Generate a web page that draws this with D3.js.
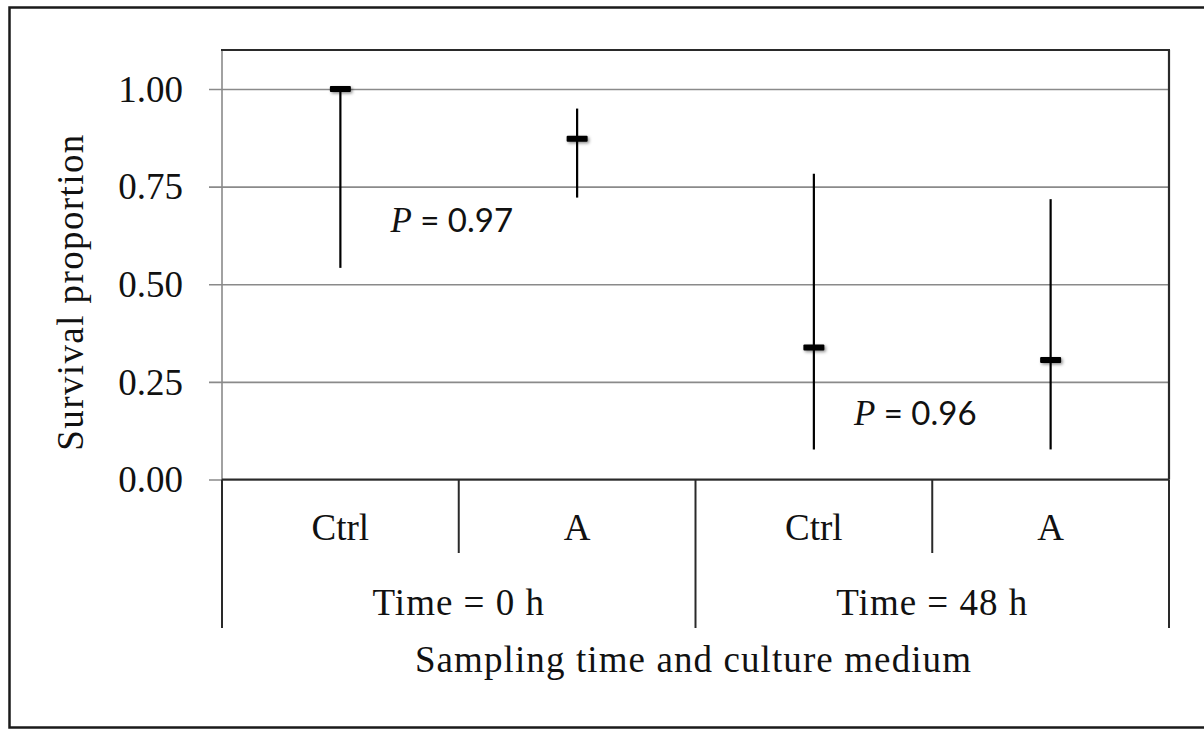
<!DOCTYPE html>
<html>
<head>
<meta charset="utf-8">
<script src="https://cdn.jsdelivr.net/npm/d3@7"></script>
<style>
  html, body { margin: 0; padding: 0; background: #fff; }
  svg { display: block; }
</style>
</head>
<body>
<svg id="chart" width="1204" height="733"></svg>
<script>
// Survival proportion by culture medium at two sampling times
const categories = ["Ctrl", "A", "Ctrl", "A"];
const groups = ["Time = 0 h", "Time = 48 h"];
const groupOf = [0, 0, 1, 1];
const estimate = [1.00, 0.873, 0.338, 0.306];
const lowerCI = [0.542, 0.722, 0.077, 0.077];
const upperCI = [1.00, 0.950, 0.783, 0.718];
const yTicks = [0, 0.25, 0.5, 0.75, 1.0];
const pValues = ["0.97", "0.96"];
const pLabelY = [0.635, 0.14];

const svg = d3.select("#chart");
const serif = "'Liberation Serif', 'Times New Roman', serif";
const sans = "Lato, 'Open Sans', sans-serif";

const plot = { left: 222, right: 1169, top: 50, bottom: 479.5 };

// outer frame
svg.append("rect")
  .attr("x", 9.5).attr("y", 7.5)
  .attr("width", 1210).attr("height", 720)
  .attr("fill", "none").attr("stroke", "#1a1a1a").attr("stroke-width", 2.5);

const keys = categories.map((c, i) => i);
const x = d3.scaleBand().domain(keys).range([plot.left, plot.right]).padding(0);
const xg = d3.scaleBand().domain(groups.map((g, i) => i)).range([plot.left, plot.right]).padding(0);
const y = d3.scaleLinear().domain([0, 1.1]).range([plot.bottom, plot.top]);

// y axis with gridlines
const yAxis = d3.axisLeft(y)
  .tickValues(yTicks)
  .tickFormat(d3.format(".2f"))
  .tickSizeInner(-(plot.right - plot.left + 13))
  .tickSizeOuter(0)
  .tickPadding(26);

const yg = svg.append("g")
  .attr("transform", `translate(${plot.left - 13},0)`)
  .call(yAxis);
yg.select(".domain").remove();
yg.selectAll(".tick line").attr("stroke", "#8a8a8a").attr("stroke-width", 1.6);
yg.selectAll(".tick text")
  .attr("font-family", serif).attr("font-size", 37).attr("fill", "#111")
  .attr("dy", "0.33em");

// plot frame: left gray, top and right dark
svg.append("line")
  .attr("x1", plot.left).attr("x2", plot.left)
  .attr("y1", plot.top).attr("y2", plot.bottom)
  .attr("stroke", "#8a8a8a").attr("stroke-width", 1.6);
svg.append("line")
  .attr("x1", plot.left - 1).attr("x2", plot.right + 1)
  .attr("y1", plot.top).attr("y2", plot.top)
  .attr("stroke", "#2a2a2a").attr("stroke-width", 2.2);
svg.append("line")
  .attr("x1", plot.right).attr("x2", plot.right)
  .attr("y1", plot.top).attr("y2", plot.bottom)
  .attr("stroke", "#2a2a2a").attr("stroke-width", 2.2);

// category axis (two levels)
const xAxisG = svg.append("g");
xAxisG.append("line")
  .attr("x1", plot.left).attr("x2", plot.right)
  .attr("y1", y(0)).attr("y2", y(0))
  .attr("stroke", "#2a2a2a").attr("stroke-width", 2.2);

// inner dividers between media within a time group
xAxisG.selectAll("line.inner")
  .data(keys.filter(i => i > 0 && groupOf[i] === groupOf[i - 1]))
  .join("line")
  .attr("class", "inner")
  .attr("x1", i => x(i)).attr("x2", i => x(i))
  .attr("y1", y(0)).attr("y2", 553)
  .attr("stroke", "#2a2a2a").attr("stroke-width", 2);

// outer dividers between time groups
const groupEdges = [xg(0), xg(1), xg(1) + xg.bandwidth()];
xAxisG.selectAll("line.outer")
  .data(groupEdges)
  .join("line")
  .attr("class", "outer")
  .attr("x1", d => d).attr("x2", d => d)
  .attr("y1", y(0)).attr("y2", 628)
  .attr("stroke", "#2a2a2a").attr("stroke-width", 2);

xAxisG.selectAll("text.cat")
  .data(keys)
  .join("text")
  .attr("class", "cat")
  .attr("x", i => x(i) + x.bandwidth() / 2)
  .attr("y", 540)
  .attr("text-anchor", "middle")
  .attr("font-family", serif).attr("font-size", 37).attr("fill", "#111")
  .text(i => categories[i]);

xAxisG.selectAll("text.grp")
  .data(groups)
  .join("text")
  .attr("class", "grp")
  .attr("x", (g, i) => xg(i) + xg.bandwidth() / 2)
  .attr("y", 615)
  .attr("text-anchor", "middle")
  .attr("font-family", serif).attr("font-size", 37).attr("fill", "#111")
  .attr("letter-spacing", 1)
  .text(g => g);

// axis titles
svg.append("text")
  .attr("x", (plot.left + plot.right) / 2 - 2)
  .attr("y", 672)
  .attr("text-anchor", "middle")
  .attr("font-family", serif).attr("font-size", 37).attr("fill", "#111")
  .attr("letter-spacing", 1.1)
  .text("Sampling time and culture medium");

svg.append("text")
  .attr("transform", "translate(83,292) rotate(-90)")
  .attr("text-anchor", "middle")
  .attr("font-family", serif).attr("font-size", 37).attr("fill", "#111")
  .attr("letter-spacing", 1.4)
  .text("Survival proportion");

// error bars
const defs = svg.append("defs");
const f = defs.append("filter").attr("id", "soft")
  .attr("x", "-50%").attr("y", "-100%").attr("width", "200%").attr("height", "300%");
f.append("feDropShadow")
  .attr("dx", 1.5).attr("dy", 1.5).attr("stdDeviation", 1.6)
  .attr("flood-color", "#000").attr("flood-opacity", 0.45);

const bars = svg.append("g");
bars.selectAll("line.ci")
  .data(keys)
  .join("line")
  .attr("class", "ci")
  .attr("x1", i => x(i) + x.bandwidth() / 2)
  .attr("x2", i => x(i) + x.bandwidth() / 2)
  .attr("y1", i => y(upperCI[i]))
  .attr("y2", i => y(lowerCI[i]))
  .attr("stroke", "#000").attr("stroke-width", 2.2);

bars.selectAll("rect.est")
  .data(keys)
  .join("rect")
  .attr("class", "est")
  .attr("x", i => x(i) + x.bandwidth() / 2 - 10.5)
  .attr("y", i => y(estimate[i]) - 3)
  .attr("width", 21).attr("height", 6)
  .attr("rx", 1)
  .attr("fill", "#000")
  .attr("filter", "url(#soft)");

// P-value annotations
const pOffsets = [-7, -17];
const ann = svg.append("g");
pValues.forEach((p, i) => {
  const t = ann.append("text")
    .attr("x", xg(i) + xg.bandwidth() / 2 + pOffsets[i])
    .attr("y", y(pLabelY[i]))
    .attr("text-anchor", "middle")
    .attr("font-family", sans).attr("font-size", 33).attr("fill", "#111");
  t.append("tspan")
    .attr("font-family", serif).attr("font-style", "italic").attr("font-size", 35)
    .text("P");
  t.append("tspan").text(" = " + p);
});
</script>
</body>
</html>
